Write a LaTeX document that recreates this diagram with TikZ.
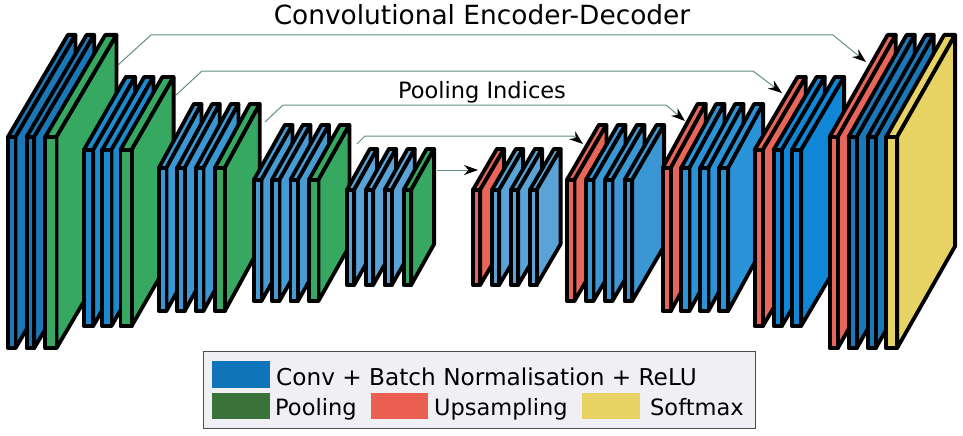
\documentclass[tikz,border=0pt]{standalone}
\usepackage{fontspec}
\setmainfont{DejaVu Sans}
\usetikzlibrary{arrows.meta}
\definecolor{bOne}{HTML}{1B78B8}
\definecolor{bTwo}{HTML}{1C8AD0}
\definecolor{bThree}{HTML}{3B97D4}
\definecolor{bFour}{HTML}{479BD4}
\definecolor{bFive}{HTML}{5AA3D6}
\definecolor{bSix}{HTML}{2A92D6}
\definecolor{bSeven}{HTML}{0F87D6}
\definecolor{greenS}{HTML}{36A862}
\definecolor{redS}{HTML}{E8655A}
\definecolor{yellowS}{HTML}{E7D264}
\definecolor{linkC}{HTML}{5F8F85}
\definecolor{legFill}{HTML}{F0EFF3}
\definecolor{legBlue}{HTML}{0F75B8}
\definecolor{legGreen}{HTML}{3A7239}
\definecolor{legRed}{HTML}{EA5F52}
\definecolor{legYellow}{HTML}{E8D263}
\tikzset{
  slabface/.style={draw=black,line width=3.8pt,line join=round},
  link/.style={draw=linkC,line width=1pt},
  linkhead/.style={link,-{Stealth[length=14pt,width=10pt,color=black]}},
  title/.style={anchor=base,font=\fontsize{26.4}{26.4}\selectfont,inner sep=0pt},
  sub/.style={anchor=base,font=\fontsize{22.5}{22.5}\selectfont,inner sep=0pt},
  legtext/.style={anchor=base west,font=\fontsize{23.2}{23.2}\selectfont,inner sep=0pt},
  legtexttwo/.style={anchor=base west,font=\fontsize{22.5}{22.5}\selectfont,inner sep=0pt}
}
% group parameters: top, bottom, dx, dy
\newcommand{\grp}[4]{\def\gT{#1}\def\gB{#2}\def\gX{#3}\def\gY{#4}}
% slab: outer left x, outer width, colour
\newcommand{\slab}[3]{%
  \pgfmathsetmacro{\xa}{#1+1.9}\pgfmathsetmacro{\xb}{#1+#2-1.9}%
  \pgfmathsetmacro{\ya}{\gT+1.9}\pgfmathsetmacro{\yb}{\gB-1.9}%
  \pgfmathsetmacro{\xc}{\xa+\gX}\pgfmathsetmacro{\xd}{\xb+\gX}%
  \pgfmathsetmacro{\yc}{\ya-\gY}\pgfmathsetmacro{\yd}{\yb-\gY}%
  \path[slabface,fill=#3] (\xa,\ya) -- (\xc,\yc) -- (\xd,\yc) -- (\xb,\ya) -- cycle;
  \path[slabface,fill=#3] (\xb,\ya) -- (\xd,\yc) -- (\xd,\yd) -- (\xb,\yb) -- cycle;
  \path[slabface,fill=#3] (\xa,\ya) rectangle (\xb,\yb);
}
\begin{document}
\begin{tikzpicture}[x=1pt,y=-1pt]
\useasboundingbox (0,0) rectangle (963,436);
% connectors first
\coordinate (s1) at (118,65); \coordinate (b1a) at (151,35); \coordinate (b1b) at (833,35); \coordinate (e1) at (866,62);
\coordinate (s2) at (176,95); \coordinate (b2a) at (202,71); \coordinate (b2b) at (753,71); \coordinate (e2) at (782,93);
\coordinate (s3) at (265,122); \coordinate (b3a) at (283,105); \coordinate (b3b) at (666,105); \coordinate (e3) at (685,121);
\coordinate (s4) at (357,144); \coordinate (b4a) at (365,136); \coordinate (b4b) at (573,136); \coordinate (e4) at (583,144);
\coordinate (s5) at (437,170); \coordinate (e5) at (478,170);
\draw[linkhead] (s1) -- (b1a) -- (b1b) -- (e1);
\draw[linkhead] (s2) -- (b2a) -- (b2b) -- (e2);
\draw[linkhead] (s3) -- (b3a) -- (b3b) -- (e3);
\draw[linkhead] (s4) -- (b4a) -- (b4b) -- (e4);
\draw[linkhead] (s5) -- (e5);
% encoder
\grp{135}{350}{60}{102}
\slab{6}{11.4}{bOne}\slab{24.7}{11.4}{bOne}\slab{43.4}{15}{greenS}
\grp{148}{328}{42}{73}
\slab{82}{13}{bTwo}\slab{100.3}{13}{bTwo}\slab{118.5}{15}{greenS}
\grp{166}{313}{35}{64}
\slab{157}{11.3}{bThree}\slab{175.3}{11.3}{bThree}\slab{194}{11.3}{bThree}\slab{213}{13.7}{greenS}
\grp{178}{303}{31}{55}
\slab{252}{11.3}{bFour}\slab{270}{11.3}{bFour}\slab{288.5}{11.3}{bFour}\slab{307}{13.3}{greenS}
\grp{188}{287}{23}{41}
\slab{345}{11}{bFive}\slab{364}{11}{bFive}\slab{382.7}{11}{bFive}\slab{401.7}{11.3}{greenS}
% decoder
\grp{188}{287}{24}{41}
\slab{471}{11}{redS}\slab{490}{11}{bFive}\slab{509}{11}{bFive}\slab{528}{10.5}{bFive}
\grp{178}{303}{32}{55}
\slab{565}{11.3}{redS}\slab{584}{11.3}{bThree}\slab{603}{11.3}{bThree}\slab{622.7}{11.3}{bThree}
\grp{166}{313}{35}{64}
\slab{660.7}{12}{redS}\slab{679.3}{12}{bSix}\slab{698.3}{12}{bSix}\slab{717.3}{12.7}{bSix}
\grp{148}{328}{43}{73}
\slab{752.7}{12}{redS}\slab{771.7}{12}{bSeven}\slab{790}{13}{bSeven}
\grp{135}{350}{58}{102}
\slab{827.7}{12}{redS}\slab{846.7}{12}{bOne}\slab{865.7}{12}{bOne}\slab{884.3}{14.7}{yellowS}
% titles
\node[title] (t1) at (482,25) {Convolutional Encoder-Decoder};
\node[sub] (t2) at (482,98) {Pooling Indices};
% legend
\node[draw=black!70,line width=1.2pt,fill=legFill,minimum width=552pt,minimum height=77pt,inner sep=0pt,anchor=north west] (leg) at (203,351) {};
\fill[legBlue] (212,361) rectangle (270,388);
\fill[legGreen] (212,393) rectangle (270,419);
\fill[legRed] (371,393) rectangle (428,419);
\fill[legYellow] (582,393) rectangle (640,419);
\node[legtext] (l1) at (276,385) {Conv + Batch Normalisation + ReLU};
\node[legtexttwo] (l2) at (275,415) {Pooling};
\node[legtexttwo] (l3) at (434,415) {Upsampling};
\node[legtexttwo] (l4) at (650,415) {Softmax};
\end{tikzpicture}
\end{document}
